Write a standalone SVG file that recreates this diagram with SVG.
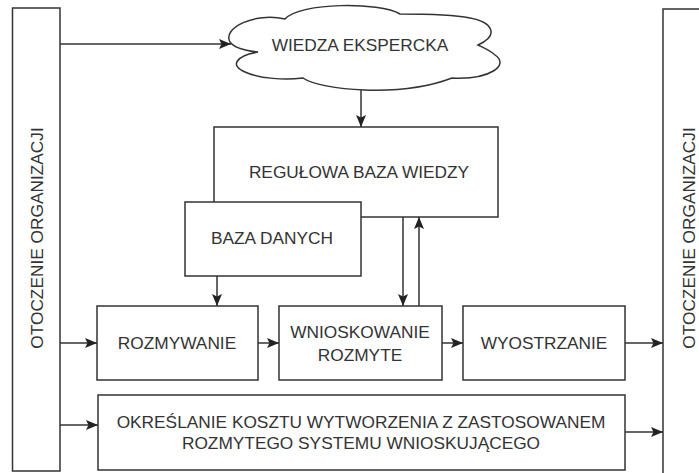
<svg xmlns="http://www.w3.org/2000/svg" width="699" height="473" viewBox="0 0 699 473">
<defs>
<style>
.box{fill:#fff;stroke:#333;stroke-width:1.5}
.t{font-family:"Liberation Sans",Arial,sans-serif;font-size:17.3px;fill:#333;text-anchor:middle}
.c{fill:none;stroke:#333;stroke-width:1.5;marker-end:url(#ah)}
</style>
<marker id="ah" markerUnits="userSpaceOnUse" markerWidth="13" markerHeight="11" refX="12" refY="5" orient="auto">
<path d="M0,0 L12,5 L0,10 L2.5,5 Z" fill="#222"/>
</marker>
</defs>
<rect width="699" height="473" fill="#fff"/>
<g id="left-env">
<rect class="box" x="12.5" y="8" width="47.5" height="463"/>
<text class="t" transform="translate(43,238) rotate(-90)">OTOCZENIE ORGANIZACJI</text>
</g>
<g id="right-env">
<rect class="box" x="663" y="9" width="60" height="470"/>
<text class="t" transform="translate(695,238) rotate(-90)">OTOCZENIE ORGANIZACJI</text>
</g>
<g id="cloud">
<path class="box" d="M285 19 C255 12,222 28,230 42 C235 49,248 51,258 52 C235 56,230 66,245 72 C260 79,285 80,303 78 C320 90,400 98,452 78 C490 80,510 65,495 55 C490 50,482 47,478 45 C500 35,492 22,470 18 C450 14,420 14,400 14 C380 2,300 2,285 19 Z"/>
<text class="t" x="360" y="51">WIEDZA EKSPERCKA</text>
</g>
<g id="rules">
<rect class="box" x="214" y="127" width="284" height="90"/>
<text class="t" x="359" y="178">REGUŁOWA BAZA WIEDZY</text>
</g>
<g id="db">
<rect class="box" x="185" y="202" width="176" height="74"/>
<text class="t" x="272" y="244">BAZA DANYCH</text>
</g>
<g id="fuzz">
<rect class="box" x="97" y="306" width="161" height="74"/>
<text class="t" x="177" y="349">ROZMYWANIE</text>
</g>
<g id="infer">
<rect class="box" x="279" y="306" width="163" height="74"/>
<text class="t" x="360" y="338">WNIOSKOWANIE</text>
<text class="t" x="360" y="361">ROZMYTE</text>
</g>
<g id="defuzz">
<rect class="box" x="463" y="306" width="162" height="74"/>
<text class="t" x="544" y="349">WYOSTRZANIE</text>
</g>
<g id="cost">
<rect class="box" x="98" y="395" width="527" height="75"/>
<text class="t" x="361" y="428">OKREŚLANIE KOSZTU WYTWORZENIA Z ZASTOSOWANEM</text>
<text class="t" x="361" y="449">ROZMYTEGO SYSTEMU WNIOSKUJĄCEGO</text>
</g>
<g id="connectors">
<path class="c" d="M60 44 H231"/>
<path class="c" d="M361 90 V127"/>
<path class="c" d="M217 276 V306"/>
<path class="c" d="M403 217 V306"/>
<path class="c" d="M419 306 V217"/>
<path class="c" d="M60 343 H97"/>
<path class="c" d="M258 343 H279"/>
<path class="c" d="M442 343 H463"/>
<path class="c" d="M625 343 H663"/>
<path class="c" d="M60 425 H98"/>
<path class="c" d="M625 432 H663"/>
</g>
</svg>
